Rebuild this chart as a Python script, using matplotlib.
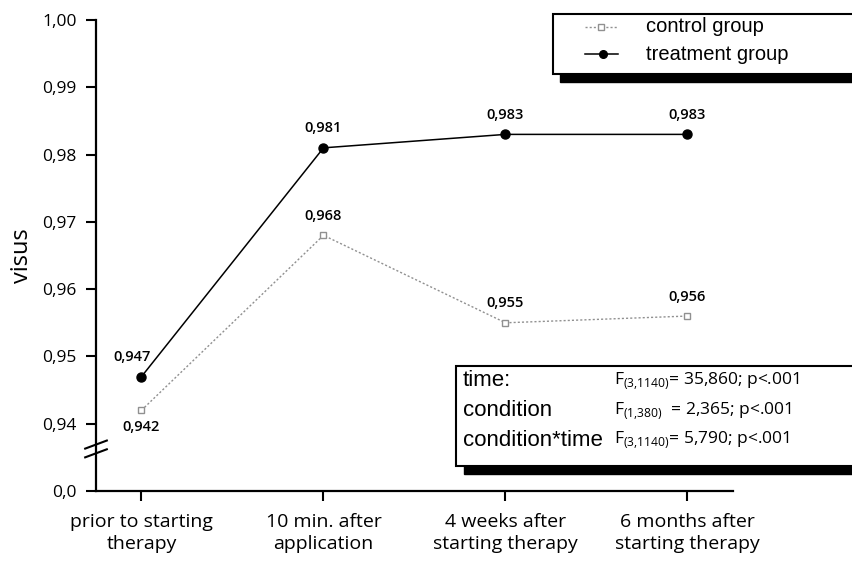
import matplotlib.pyplot as plt
from matplotlib.patches import Rectangle
from matplotlib.lines import Line2D
import matplotlib.transforms as mtransforms

# visus over four measurement points
timepoints = ["prior to starting\ntherapy", "10 min. after\napplication",
              "4 weeks after\nstarting therapy", "6 months after\nstarting therapy"]
control = [0.942, 0.968, 0.955, 0.956]
treatment = [0.947, 0.981, 0.983, 0.983]

# y axis is broken below 0,94; the bottom position stands for 0,0
ytick_pos = [0.93, 0.94, 0.95, 0.96, 0.97, 0.98, 0.99, 1.00]
ytick_lab = ["0,0", "0,94", "0,95", "0,96", "0,97", "0,98", "0,99", "1,00"]

stat_names = ["time:", "condition", "condition*time"]
stat_df = ["(3{,}1140)", "(1{,}380)", "(3{,}1140)"]
stat_vals = ["= 35,860; p<.001", "  = 2,365; p<.001", "= 5,790; p<.001"]

plt.rcParams['font.family'] = ['Open Sans', 'DejaVu Sans']
plt.rcParams['mathtext.fontset'] = 'custom'
plt.rcParams['mathtext.rm'] = 'Open Sans'

fig = plt.figure(figsize=(8.53, 5.67), dpi=100)
ax = fig.add_axes([96/853, 1-491/567, (733-96)/853, (491-20)/567])

x = list(range(len(timepoints)))
ax.plot(x, control, color='#909090', lw=1, ls=(0, (1.5, 1.5)),
        marker='s', ms=4, mfc='white', mec='#909090', mew=1, zorder=3)
ax.plot(x, treatment, color='black', lw=1.1,
        marker='o', ms=6.5, mfc='black', mec='black', zorder=4)

def lab(v):
    return f"{v:.3f}".replace('.', ',')

for i, v in enumerate(treatment):
    dx = -7 if i == 0 else 0
    ax.annotate(lab(v), (i, v), xytext=(dx, 9), textcoords='offset points',
                ha='center', va='bottom', fontsize=10.5, fontweight='semibold')
for i, v in enumerate(control):
    if i == 0:
        ax.annotate(lab(v), (i, v), xytext=(0, -7), textcoords='offset points',
                    ha='center', va='top', fontsize=10.5, fontweight='semibold')
    else:
        ax.annotate(lab(v), (i, v), xytext=(0, 9), textcoords='offset points',
                    ha='center', va='bottom', fontsize=10.5, fontweight='semibold')

ax.set_xlim(-0.25, 3.25)
ax.set_ylim(0.93, 1.00)
ax.set_xticks(x)
ax.set_xticklabels(timepoints, fontsize=14, linespacing=1.25)
ax.set_yticks(ytick_pos)
ax.set_yticklabels(ytick_lab, fontsize=12.5)
ax.tick_params(axis='both', direction='out', length=7, width=1.5, color='black')
ax.tick_params(axis='x', pad=9)
ax.tick_params(axis='y', pad=7)
for s in ['top', 'right']:
    ax.spines[s].set_visible(False)
for s in ['left', 'bottom']:
    ax.spines[s].set_linewidth(1.6)
ax.set_ylabel("visus", fontsize=17, labelpad=6)

# axis break marks
tr = mtransforms.blended_transform_factory(ax.transAxes, ax.transData)
for y0 in (0.9369, 0.9356):
    ax.plot([-0.017, 0.017], [y0 - 0.0006, y0 + 0.0006], transform=tr,
            color='black', lw=1.5, clip_on=False)

W, H = 853, 567
def fx(px):
    return px / W
def fy(py):
    return 1 - py / H

# legend box with drop shadow
fig.patches.append(Rectangle((fx(560), fy(82)), fx(300), 8/H,
                             transform=fig.transFigure, color='black', zorder=5))
fig.patches.append(Rectangle((fx(553), fy(74)), fx(310), 60/H,
                             transform=fig.transFigure, facecolor='white',
                             edgecolor='black', lw=1.5, zorder=6))
fig.lines.append(Line2D([fx(585), fx(618)], [fy(27), fy(27)], transform=fig.transFigure,
                        color='#909090', lw=1, ls=(0, (1.5, 1.5)), zorder=7))
fig.lines.append(Line2D([fx(601)], [fy(27)], transform=fig.transFigure, marker='s',
                        ms=4, mfc='white', mec='#909090', zorder=8))
fig.lines.append(Line2D([fx(585), fx(618)], [fy(54), fy(54)], transform=fig.transFigure,
                        color='black', lw=1.1, zorder=7))
fig.lines.append(Line2D([fx(603)], [fy(54)], transform=fig.transFigure, marker='o',
                        ms=5.5, color='black', zorder=8))
fig.text(fx(646), fy(27), "control group", fontsize=14.5, va='center',
         family='Liberation Sans', zorder=9)
fig.text(fx(646), fy(54), "treatment group", fontsize=14.5, va='center',
         family='Liberation Sans', zorder=9)

# statistics box with drop shadow
fig.patches.append(Rectangle((fx(464), fy(474)), fx(400), 9/H,
                             transform=fig.transFigure, color='black', zorder=5))
fig.patches.append(Rectangle((fx(456), fy(466)), fx(410), 100/H,
                             transform=fig.transFigure, facecolor='white',
                             edgecolor='black', lw=1.5, zorder=6))
for k, (name, dfs, val) in enumerate(zip(stat_names, stat_df, stat_vals)):
    yy = fy(381 + k * 29.5)
    fig.text(fx(463), yy, name, fontsize=16, va='center',
             family='Liberation Sans', zorder=9)
    fig.text(fx(614), yy, "F$_{\\mathrm{" + dfs + "}}$" + val, fontsize=12.5,
             va='center', zorder=9)

fig.savefig("out.png", dpi=100, facecolor='white')
